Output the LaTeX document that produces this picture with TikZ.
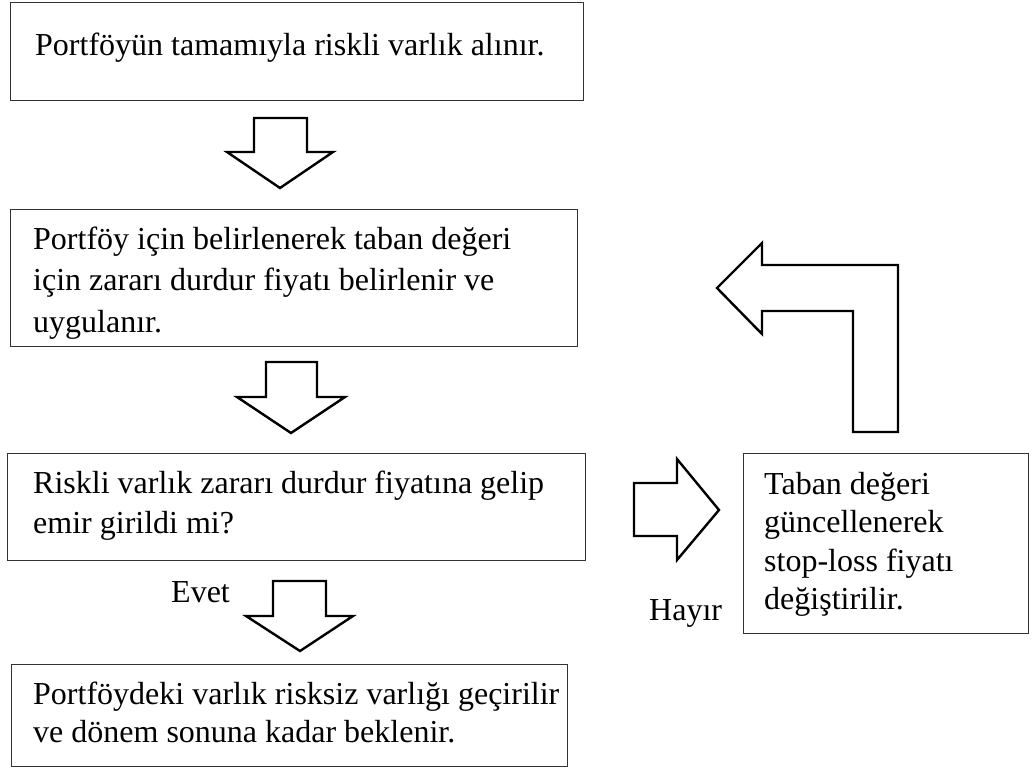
\documentclass[tikz,border=0pt]{standalone}
\usepackage{fontspec}
\setmainfont{Liberation Serif}
\begin{document}
\begin{tikzpicture}[x=1pt,y=-1pt,
  box/.style={draw=black!80, line width=1.4pt, inner sep=0pt, anchor=north west},
  txt/.style={anchor=base west, inner sep=0pt, font=\fontsize{32}{40}\selectfont},
  blockarrow/.style={draw=black, line width=2.4pt, fill=white, line join=miter}
]
\useasboundingbox (0,0) rectangle (1033,769);

% process boxes
\node[box, minimum width=573pt, minimum height=98pt]  (b1) at (10,2) {};
\node[box, minimum width=567pt, minimum height=137pt] (b2) at (10,209) {};
\node[box, minimum width=578pt, minimum height=107pt] (b3) at (7,453) {};
\node[box, minimum width=556pt, minimum height=102pt] (b4) at (11,664) {};
\node[box, minimum width=285pt, minimum height=180pt] (b5) at (743,453) {};

% box texts
\node[txt] (t1) at (35,55) {Portföyün tamamıyla riskli varlık alınır.};
\node[txt] (t2) at (33,249) {\baselineskip=41.5pt\vtop{\hbox{Portföy için belirlenerek taban değeri}\hbox{için zararı durdur fiyatı belirlenir ve}\hbox{uygulanır.}}};
\node[txt] (t3) at (33,493) {\baselineskip=40pt\vtop{\hbox{Riskli varlık zararı durdur fiyatına gelip}\hbox{emir girildi mi?}}};
\node[txt] (t4) at (33,704) {\baselineskip=38.5pt\vtop{\hbox{Portföydeki varlık risksiz varlığı geçirilir}\hbox{ve dönem sonuna kadar beklenir.}}};
\node[txt] (t5) at (764,494) {\baselineskip=38.5pt\vtop{\hbox{Taban değeri}\hbox{güncellenerek}\hbox{stop-loss fiyatı}\hbox{değiştirilir.}}};

% branch labels
\node[txt] (evet) at (171,602) {Evet};
\node[txt] (hayir) at (649,620) {Hayır};

% block arrows
\draw[blockarrow] (254,118) -- (307,118) -- (307,152) -- (333,152) -- (280,188) -- (227,152) -- (254,152) -- cycle;
\draw[blockarrow] (266,362) -- (317,362) -- (317,397) -- (345,397) -- (291,433) -- (237,397) -- (266,397) -- cycle;
\draw[blockarrow] (273,581) -- (326,581) -- (326,616) -- (353,616) -- (300,651) -- (246,616) -- (273,616) -- cycle;
\draw[blockarrow] (634,483) -- (677,483) -- (677,459) -- (719,510) -- (677,560) -- (677,536) -- (634,536) -- cycle;
\draw[blockarrow] (717,288) -- (762,243) -- (762,265) -- (898,265) -- (898,432) -- (853,432) -- (853,311) -- (762,311) -- (762,334) -- cycle;
\end{tikzpicture}
\end{document}
